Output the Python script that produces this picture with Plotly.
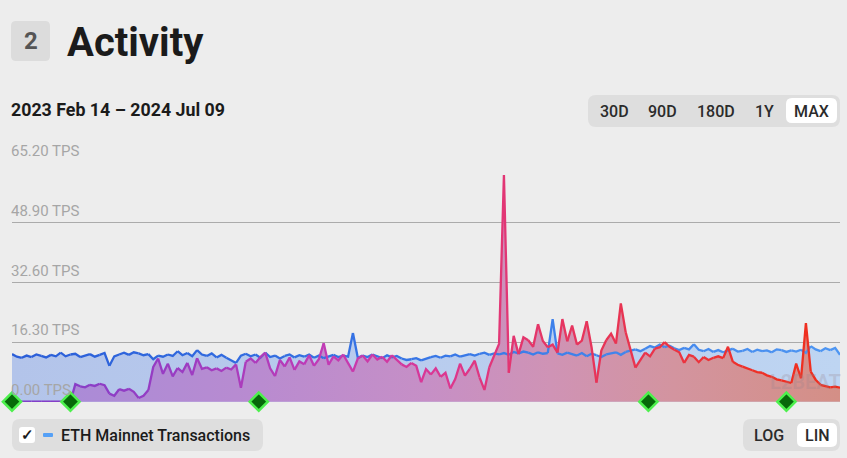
import pandas as pd
import plotly.graph_objects as go

# data
dates = pd.date_range("2023-02-14", periods=171, freq="3D")

eth_tps = [
    13.0, 12.3, 12.0, 12.6, 12.2, 12.9, 12.5, 12.1, 12.8, 12.4,
    13.4, 12.4, 12.9, 13.1, 12.2, 12.6, 13.0, 12.3, 12.8, 13.3,
    9.8, 12.4, 12.9, 13.4, 12.8, 13.5, 13.2, 12.7, 13.0, 11.6,
    12.6, 12.3, 12.9, 12.5, 13.8, 12.7, 13.3, 12.4, 14.1, 12.9,
    12.5, 13.2, 12.1, 12.8, 12.0, 11.2, 10.6, 12.6, 13.1, 12.4,
    12.9, 12.0, 13.4, 12.2, 12.6, 11.8, 12.5, 12.9, 12.1, 12.7,
    12.3, 12.9, 12.0, 12.6, 11.9, 12.4, 12.8, 12.2, 12.6, 12.3,
    18.8, 12.0, 12.6, 12.2, 12.9, 12.4, 11.9, 12.7, 12.1, 12.5,
    11.8, 11.4, 11.6, 11.9, 11.3, 11.7, 12.2, 12.5, 12.0, 12.6,
    12.4, 12.9, 12.3, 12.7, 13.0, 12.6, 13.1, 13.4, 12.8, 13.2,
    12.9, 13.3, 12.8, 13.6, 13.2, 13.7, 13.4, 12.9, 13.5, 13.1,
    13.3, 22.6, 13.2, 12.8, 13.4, 13.0, 12.6, 13.3, 12.4, 13.1,
    12.7, 12.2, 12.9, 13.1, 13.5, 12.8, 13.6, 13.9, 14.3, 13.8,
    14.5, 15.2, 14.8, 15.6, 14.9, 15.3, 14.6, 14.1, 14.7, 14.3,
    15.7, 14.2, 13.8, 14.4, 13.6, 14.1, 13.5, 14.0, 14.5, 13.7,
    13.9, 14.4, 13.6, 14.2, 13.8, 14.0, 13.5, 14.3, 14.1, 13.6,
    14.0, 13.7, 14.2, 13.3, 15.2, 14.3, 13.8, 14.6, 14.1, 14.7, 12.8,
]

l2_tps = [
    0, 0, 0, 0, 0, 0, 0, 0, 0, 0,
    0, 0, 0, 4.8, 4.2, 3.9, 4.6, 4.3, 4.9, 4.5,
    2.2, 1.6, 3.4, 3.0, 3.5, 2.7, 1.0, 1.6, 3.2, 9.5,
    11.8, 7.6, 10.4, 6.9, 9.2, 8.1, 10.6, 7.3, 11.9, 9.0,
    9.4, 8.6, 9.1, 8.4, 9.3, 8.8, 10.2, 3.8, 10.9, 11.8,
    10.6, 12.2, 13.4, 9.1, 7.0, 11.4, 9.6, 12.1, 8.7, 11.0,
    10.2, 12.7, 9.8, 11.6, 16.0, 10.1, 12.4, 11.3, 12.9, 10.5,
    8.2, 11.8, 12.6, 11.0, 12.9, 11.5, 12.3, 10.9, 12.7, 11.4,
    10.2, 9.5, 10.6, 9.8, 5.3, 8.9, 7.4, 9.1, 6.8, 7.9,
    3.6, 6.2, 10.4, 7.1, 9.0, 11.2, 6.6, 3.2, 9.4, 12.5,
    15.8, 62.0, 7.9, 18.0, 13.0, 17.6, 16.8, 15.0, 21.2, 16.6,
    14.9, 15.6, 13.4, 22.6, 16.5, 20.8, 15.6, 16.7, 22.0, 14.8,
    5.2, 14.0, 16.8, 18.6, 15.9, 26.9, 19.0, 14.0, 9.3, 11.5,
    13.4, 12.4, 14.5, 14.9, 16.3, 15.0, 14.2, 13.5, 10.6, 12.8,
    12.3, 10.8, 12.2, 11.4, 12.0, 12.4, 11.9, 15.0, 10.9, 10.1,
    9.6, 9.0, 8.6, 8.1, 7.9, 7.2, 6.8, 6.1, 5.8, 5.4,
    5.1, 10.4, 6.4, 21.5, 8.2, 6.0, 4.6, 4.2, 3.9, 4.1, 3.8,
]

event_dates = ["2023-02-14", "2023-03-22", "2023-07-16", "2024-03-12", "2024-06-05"]
tick_vals = [0, 16.3, 32.6, 48.9, 65.2]
tick_text = [f"{v:.2f} TPS" for v in tick_vals]
range_buttons = ["30D", "90D", "180D", "1Y", "MAX"]
scale_buttons = ["LOG", "LIN"]

BG = "#ededed"
PANEL = "#dedede"

l2_line_stops = [(0, "#7e3fca"), (0.2, "#9a3cc2"), (0.38, "#c23bb5"), (0.52, "#dc3791"),
                 (0.62, "#e4356b"), (0.78, "#ea3448"), (0.9, "#ee3026"), (1, "#f02e1c")]
l2_fill_stops = [(0, "#a68bd9"), (0.3, "#b98bd0"), (0.5, "#c68fc6"), (0.65, "#cf93b5"),
                 (0.8, "#d3949f"), (1, "#d48f86")]
eth_line_stops = [(0, "#2b5ed8"), (0.5, "#3776e6"), (1, "#4e96f2")]
eth_fill_stops = [(0, "#b3c4ea"), (1, "#bed5f2")]


def mix(stops, t):
    for (p0, c0), (p1, c1) in zip(stops, stops[1:]):
        if t <= p1:
            f = (t - p0) / (p1 - p0)
            a = [int(c0[i:i + 2], 16) for i in (1, 3, 5)]
            b = [int(c1[i:i + 2], 16) for i in (1, 3, 5)]
            r, g, bl = [round(a[k] + (b[k] - a[k]) * f) for k in range(3)]
            return f"rgb({r},{g},{bl})"
    return stops[-1][1]


def scale(stops):
    return [[p, mix(stops, p)] for p, _ in stops]


def gradient_line(fig, ys, stops, step=2, width=2.3):
    n = len(ys)
    for k in range(0, n - 1, step):
        t = (k + step / 2) / (n - 1)
        fig.add_trace(go.Scatter(x=dates[k:k + step + 1], y=ys[k:k + step + 1], mode="lines",
                                 line=dict(color=mix(stops, min(t, 1)), width=width),
                                 cliponaxis=False, hoverinfo="skip"))


# pixel -> paper helpers (plot area 12..840 x 163..402)
def px(x):
    return (x - 12) / 828


def py(y):
    return (402 - y) / 239


def rrect(x0, y0, x1, y1, r):
    pts = [("M", x0 + r, y0), ("L", x1 - r, y0), ("Q", x1, y0), ("", x1, y0 + r),
           ("L", x1, y1 - r), ("Q", x1, y1), ("", x1 - r, y1), ("L", x0 + r, y1),
           ("Q", x0, y1), ("", x0, y1 - r), ("L", x0, y0 + r), ("Q", x0, y0), ("", x0 + r, y0)]
    return " ".join(f"{c} {px(a):.5f},{py(b):.5f}" for c, a, b in pts) + " Z"


fig = go.Figure()

fig.add_trace(go.Scatter(x=dates, y=eth_tps, mode="none", fill="tozeroy",
                         fillgradient=dict(type="horizontal", colorscale=scale(eth_fill_stops)),
                         hoverinfo="skip"))
fig.add_trace(go.Scatter(x=dates, y=l2_tps, mode="none", fill="tozeroy",
                         fillgradient=dict(type="horizontal", colorscale=scale(l2_fill_stops)),
                         hoverinfo="skip"))
gradient_line(fig, eth_tps, eth_line_stops)
gradient_line(fig, l2_tps, l2_line_stops)

fig.add_trace(go.Scatter(x=event_dates, y=[0] * len(event_dates), mode="markers",
                         marker=dict(symbol="diamond", size=14, color="#07690a",
                                     line=dict(color="#4df04d", width=2.5)),
                         cliponaxis=False, hoverinfo="skip"))

shapes = [
    dict(type="path", path=rrect(11, 21, 50, 61, 5), fillcolor="#dcdcdc", line_width=0),
    dict(type="path", path=rrect(588, 95, 840, 127, 8), fillcolor=PANEL, line_width=0),
    dict(type="path", path=rrect(786, 98, 837, 123, 6), fillcolor="#ffffff", line_width=0),
    dict(type="path", path=rrect(12, 419, 263, 451, 8), fillcolor=PANEL, line_width=0),
    dict(type="path", path=rrect(19, 427, 35, 443, 3), fillcolor="#ffffff", line_width=0),
    dict(type="path", path=rrect(43, 433, 53, 437, 1), fillcolor="#55a0f6", line_width=0),
    dict(type="path", path=rrect(743, 419, 840, 451, 8), fillcolor=PANEL, line_width=0),
    dict(type="path", path=rrect(797, 423, 837, 447, 6), fillcolor="#ffffff", line_width=0),
]
for s in shapes:
    s.update(xref="paper", yref="paper", layer="above")

annotations = []
for v, t in zip(tick_vals, tick_text):
    annotations.append(dict(x=0, y=v, xref="paper", yref="y", text=t, showarrow=False,
                            xanchor="left", yanchor="bottom", xshift=-3, yshift=1,
                            font=dict(size=15, color="#a6a6a6")))


def label(x, y, text, size, color="#1b1b1b", weight=400, anchor="center"):
    annotations.append(dict(x=px(x), y=py(y), xref="paper", yref="paper", text=text,
                            showarrow=False, xanchor=anchor, yanchor="middle",
                            font=dict(size=size, color=color, weight=weight)))


label(30.5, 41, "2", 24, "#555555", 700)
label(65, 42, "Activity", 40, "#1b1b1b", 700, "left")
label(9, 110, "2023 Feb 14 – 2024 Jul 09", 17.8, "#1b1b1b", 700, "left")
for x, t in zip([614, 662, 716, 764, 811], range_buttons):
    label(x, 111, t, 16, "#2b2b2b", 500)
label(27, 435, "✓", 15, "#1b1b1b", 700)
label(59, 435, "ETH Mainnet Transactions", 16, "#1b1b1b", 500, "left")
for x, t in zip([769, 817], scale_buttons):
    label(x, 435, t, 16, "#2b2b2b", 500)
label(805, 382, "L2BEAT", 20, "rgba(150,130,140,0.25)", 700)

fig.update_layout(
    width=847, height=458,
    margin=dict(l=12, r=7, t=163, b=56, pad=0),
    paper_bgcolor=BG, plot_bgcolor=BG,
    font=dict(family="Roboto, sans-serif"),
    showlegend=False,
    shapes=shapes,
    annotations=annotations,
    xaxis=dict(visible=False, range=[dates[0], dates[-1]], fixedrange=True),
    yaxis=dict(range=[-0.1, 65.3], tickvals=tick_vals, showticklabels=False,
               gridcolor="#ababab", gridwidth=1, zeroline=False, fixedrange=True),
)

# page body has a default 8px margin; drop it so the figure sits at the window corner
fig.write_html("out.html", config={"displayModeBar": False},
               post_script="document.body.style.margin='0';document.body.style.background='#ededed';")
